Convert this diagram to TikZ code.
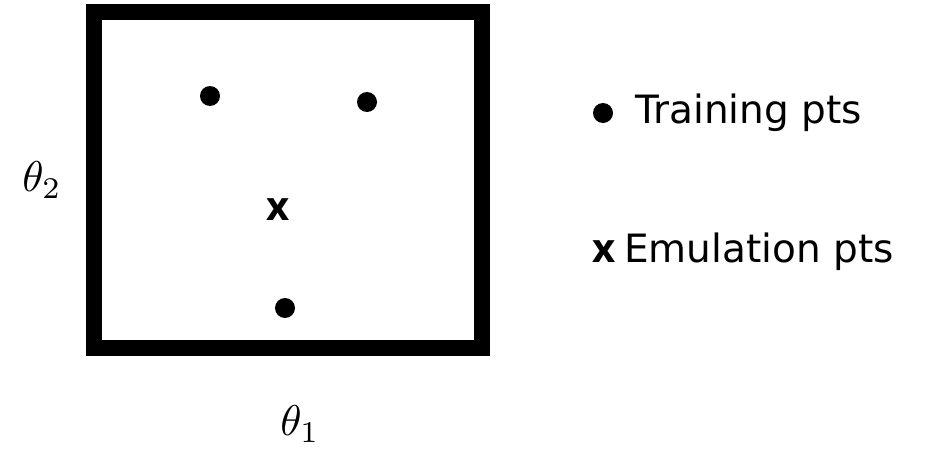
\documentclass[tikz,border=0pt]{standalone}
\usepackage{fontspec}
\setmainfont{DejaVu Sans}
\newfontfamily\xfont{Open Sans}
\begin{document}
\begin{tikzpicture}[x=1pt,y=-1pt,
  frame/.style={line width=16pt,line join=miter},
  tdot/.style={circle,fill=black,inner sep=0pt,minimum size=20pt},
  lbl/.style={font=\fontsize{39}{44}\selectfont,inner sep=0pt},
  bx/.style={font=\xfont\fontsize{40}{44}\bfseries\selectfont,inner sep=0pt},
  mth/.style={scale=4.3,inner sep=0pt}]
\useasboundingbox (0,0) rectangle (938,450);
\draw[frame] (94,12) rectangle (482,348);
\node[tdot] (d1) at (210,96) {};
\node[tdot] (d2) at (367,102) {};
\node[tdot] (d3) at (285,308) {};
\node[bx,anchor=base] (e1) at (278,220) {x};
\node[mth] (t2) at (42,180) {$\theta_2$};
\node[mth] (t1) at (300,424) {$\theta_1$};
\node[tdot] (ld) at (603,113) {};
\node[lbl,anchor=base west] (lt) at (635,123) {Training pts};
\node[bx,anchor=base west] (lx) at (592,262) {x};
\node[lbl,anchor=base west] (le) at (624,262) {Emulation pts};
\end{tikzpicture}
\end{document}
